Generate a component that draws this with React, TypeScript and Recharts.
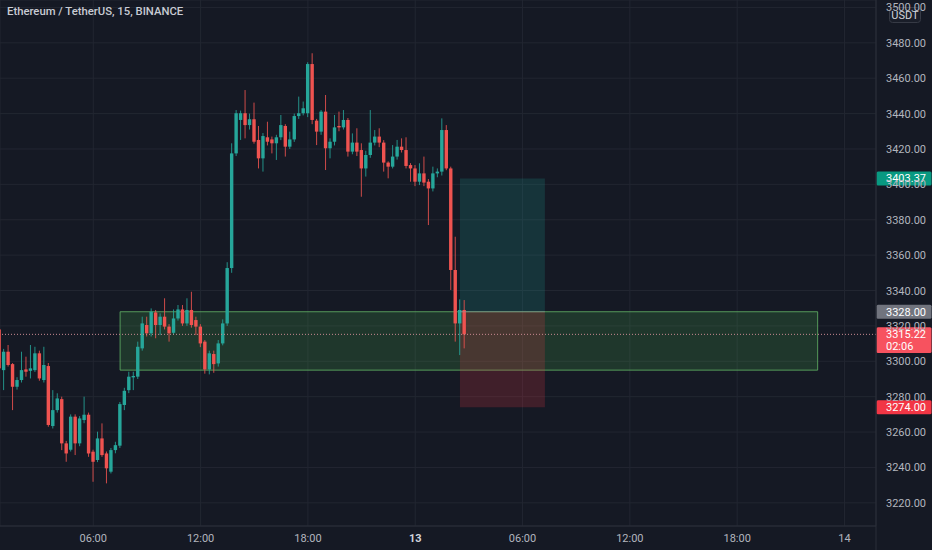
import React from 'react';
import { ComposedChart, Bar, XAxis, YAxis, CartesianGrid, ReferenceArea, ReferenceLine } from 'recharts';

// ETH/USDT 15-minute candles, first candle starts at 00:45 on the 12th
const FIRST_CANDLE_MINUTE = 45;
const CANDLE_MINUTES = 15;

const opens = [
  3318, 3295.0, 3305.4, 3298.4, 3285.6, 3289.4, 3295.4, 3294.6, 3295.0, 3304.5,
  3289.4, 3297.3, 3263.4, 3272.4, 3278.6, 3253.6, 3250.0, 3268.7, 3253.6, 3266.8,
  3269.8, 3248.9, 3244.2, 3256.4, 3247.9, 3237.6, 3249.8, 3252.3, 3275.3, 3283.7,
  3290.9, 3291.3, 3307.3, 3320.5, 3315.8, 3327.6, 3320.5, 3325.2, 3319.6, 3316.1,
  3324.2, 3329.3, 3321.4, 3329.0, 3323.3, 3319.6, 3311.1, 3295.4, 3304.1, 3298.8,
  3310.1, 3321.4, 3352.7, 3417.5, 3436.4, 3440.2, 3433.5, 3436.8, 3425.1, 3414.7,
  3426.6, 3425.4, 3423.2, 3426.6, 3433.0, 3421.3, 3425.4, 3438.6, 3440.2, 3440.2,
  3468.0, 3436.0, 3429.8, 3441.1, 3420.4, 3424.1, 3433.0, 3432.2, 3436.4, 3418.5,
  3423.6, 3419.4, 3409.0, 3416.6, 3423.6, 3427.0, 3423.6, 3412.3, 3410.0, 3415.7,
  3421.3, 3419.4, 3410.9, 3409.0, 3401.5, 3406.2, 3401.5, 3397.7, 3406.2, 3407.2,
  3430.7, 3409.0, 3351.6, 3321.4, 3329.0,
];
const highs = [
  3320, 3307, 3309.2, 3299, 3291, 3305.4, 3302.6, 3309.2, 3308.2, 3306,
  3308.2, 3299, 3283.7, 3281.9, 3280, 3255, 3270, 3270, 3269, 3280.0,
  3271, 3250, 3260.2, 3264.9, 3249, 3251, 3254.5, 3277, 3285, 3294.1,
  3294.1, 3311.1, 3325.2, 3325.2, 3329.9, 3329, 3327.1, 3335.6, 3321, 3329.3,
  3331.8, 3331.8, 3335.6, 3339.3, 3325.2, 3321, 3312, 3306, 3306, 3312,
  3323.7, 3356, 3423.2, 3442, 3441.7, 3453.3, 3440, 3446.2, 3433.0, 3429,
  3435.4, 3427, 3428, 3439.2, 3434, 3429.8, 3440, 3449.6, 3446.8, 3469,
  3474.1, 3437, 3442, 3450.5, 3426, 3439.2, 3441.1, 3442.0, 3437.5, 3428.8,
  3431.7, 3423.2, 3419, 3442.0, 3430.7, 3431.7, 3425, 3413, 3422.2, 3425.1,
  3426, 3426.6, 3412, 3410.9, 3411.9, 3415.7, 3403, 3410, 3409, 3437.3,
  3433.5, 3410, 3370.4, 3335.0, 3334.6,
];
const lows = [
  3294, 3283.7, 3297, 3272.4, 3284, 3288, 3291.3, 3290.3, 3294, 3289,
  3288, 3263, 3262, 3271, 3249.8, 3243.2, 3249, 3247, 3252, 3265,
  3246, 3231.9, 3243, 3246, 3231.0, 3236.6, 3248, 3251, 3272.4, 3282,
  3283.7, 3290, 3306, 3314, 3314, 3313, 3314.8, 3318, 3311.1, 3315,
  3323, 3320, 3320, 3319, 3314.8, 3308, 3293, 3292.6, 3293.5, 3297,
  3309, 3320, 3350, 3416, 3425.1, 3426.0, 3431, 3423, 3409.0, 3407.2,
  3422, 3417.5, 3413.8, 3425, 3415.7, 3420, 3424, 3437, 3439, 3438,
  3434, 3422.2, 3428, 3408.1, 3414.7, 3422, 3430, 3431, 3415.7, 3417,
  3416, 3393.0, 3404.4, 3415, 3422, 3421, 3407.2, 3403.4, 3409, 3414,
  3418, 3409, 3401.5, 3399, 3399.6, 3399, 3377.0, 3396, 3404, 3405,
  3408, 3340.3, 3311.1, 3303.5, 3307.3,
];
const closes = [
  3296, 3305.4, 3297.9, 3285.6, 3289.4, 3295.0, 3294.1, 3296, 3304.5, 3290.3,
  3297.9, 3264.0, 3272.4, 3279.0, 3253.6, 3247.9, 3268.7, 3253.6, 3267.7, 3269.8,
  3247.9, 3243.2, 3256.4, 3247.0, 3239.5, 3249.8, 3252.6, 3275.8, 3283.3, 3291.3,
  3291.7, 3308.2, 3321.4, 3315.8, 3328.0, 3320.5, 3325.2, 3319.6, 3315.8, 3324.2,
  3329.3, 3321.4, 3329.0, 3320.5, 3319.6, 3310.1, 3295.4, 3304.5, 3298.4, 3310.1,
  3321.4, 3352.7, 3417.5, 3440.2, 3440.2, 3433.5, 3436.8, 3424.1, 3414.7, 3427.3,
  3424.1, 3423.2, 3426.6, 3433.5, 3421.3, 3425.4, 3438.6, 3440.2, 3443.0, 3468.0,
  3436.4, 3429.8, 3441.1, 3420.4, 3424.1, 3432.2, 3432.2, 3436.4, 3418.5, 3423.6,
  3418.5, 3409.0, 3416.6, 3423.6, 3427.0, 3423.6, 3412.3, 3410.0, 3415.7, 3421.3,
  3419.4, 3410.4, 3409.0, 3401.5, 3406.2, 3401.0, 3397.7, 3406.2, 3407.2, 3430.7,
  3409.0, 3351.6, 3321.4, 3329.0, 3315.22,
];

// axis ticks (minutes since 00:00 on the 12th) and price ticks
const timeTicks = [360, 720, 1080, 1440, 1800, 2160, 2520, 2880];
const priceTicks = [3220, 3240, 3260, 3280, 3300, 3320, 3340, 3360, 3380, 3400, 3420, 3440, 3460, 3480, 3500];
const timeDomain = [47.1, 2985.7];
const priceDomain = [3206.9, 3504.2];

// drawings
const zoneTimes = [450, 2790];
const zonePrices = [3295, 3328];
const positionTimes = [1590, 1875];
const positionEntry = 3328;
const positionTarget = 3403.37;
const positionStop = 3274;
const lastPrice = 3315.22;
const countdown = '02:06';
const quoteCurrency = 'USDT';
const title = 'Ethereum / TetherUS, 15, BINANCE';

const BG = '#151924';
const GRID = '#222631';
const UP = '#26a69a';
const DOWN = '#ef5350';
const TEXT = '#b2b5be';
const FONT = 'Roboto, "Liberation Sans", sans-serif';
const AXIS_TEXT_X = 886;

const candles = opens.map((o, i) => ({
  t: FIRST_CANDLE_MINUTE + i * CANDLE_MINUTES,
  open: o,
  high: highs[i],
  low: lows[i],
  close: closes[i],
  range: [lows[i], highs[i]],
}));

function Candle(props: any) {
  const { x, y, width, height, payload } = props;
  if (x == null || y == null || !payload) return null;
  const { open, close, high, low } = payload;
  const top = Math.min(y, y + height);
  const h = Math.abs(height);
  const k = high === low ? 0 : h / (high - low);
  const py = (v: number) => top + (high - v) * k;
  const cx = x + width / 2;
  const color = close >= open ? UP : DOWN;
  const bTop = py(Math.max(open, close));
  const bH = Math.max(1, py(Math.min(open, close)) - bTop);
  return (
    <g>
      <line x1={cx} x2={cx} y1={top} y2={top + h} stroke={color} strokeWidth={1} strokeOpacity={0.85} />
      <rect x={cx - 1.7} y={bTop} width={3.4} height={bH} fill={color} />
    </g>
  );
}

const fmtTime = (m: number) => {
  if (m % 1440 === 0) return String(12 + m / 1440);
  const mm = m % 1440;
  const h = Math.floor(mm / 60);
  const mi = mm % 60;
  return `${String(h).padStart(2, '0')}:${String(mi).padStart(2, '0')}`;
};

function TimeTick(props: any) {
  const { x, payload } = props;
  const label = fmtTime(payload.value);
  const bold = payload.value === 1440;
  return (
    <text x={x} y={542} textAnchor="middle" fontSize={11} fontFamily={FONT}
      fill={bold ? '#d1d4dc' : TEXT} fontWeight={bold ? 700 : 400}>{label}</text>
  );
}

function PriceTick(props: any) {
  const { y, payload } = props;
  return (
    <text x={AXIS_TEXT_X} y={y + 4} fontSize={11} fontFamily={FONT} fill={TEXT}>
      {Number(payload.value).toFixed(2)}
    </text>
  );
}

function AxisDecor(props: any) {
  const vb = props.viewBox;
  if (!vb) return null;
  const x0 = vb.x + vb.width;
  return (
    <g>
      <line x1={x0} x2={x0} y1={0} y2={550} stroke="#2a2e39" strokeWidth={1} />
      <rect x={x0 + 13.5} y={7.5} width={31} height={15} rx={3} fill="#1a1e29" stroke="#363a45" />
      <text x={x0 + 29} y={19} textAnchor="middle" fontSize={11} fontFamily={FONT} fill="#d1d4dc">{quoteCurrency}</text>
    </g>
  );
}

const makeTag = (value: number, bg: string, second?: string) => (props: any) => {
  const vb = props.viewBox;
  if (!vb) return null;
  const cy = vb.y;
  const x0 = vb.x + vb.width;
  const h = second ? 25.7 : 14;
  return (
    <g>
      <rect x={x0 + 0.5} y={cy - 7} width={55} height={h} rx={1.5} fill={bg} />
      <text x={AXIS_TEXT_X} y={cy + 4} fontSize={11} fontFamily={FONT} fill="#ffffff">{value.toFixed(2)}</text>
      {second ? (
        <text x={AXIS_TEXT_X} y={cy + 15.5} fontSize={11} fontFamily={FONT} fill="#ffffff">{second}</text>
      ) : null}
    </g>
  );
};

export default function App() {
  return (
    <div style={{ position: 'absolute', left: 0, top: 0, width: 932, height: 550, background: BG, overflow: 'hidden', fontFamily: FONT }}>
      <ComposedChart width={932} height={550} data={candles} margin={{ top: 0, right: 0, bottom: 0, left: 0 }}>
        <CartesianGrid stroke={GRID} strokeWidth={1} />
        <XAxis dataKey="t" type="number" domain={timeDomain} allowDataOverflow ticks={timeTicks}
          height={24} tickLine={false} axisLine={{ stroke: '#2a2e39' }} tick={<TimeTick />} interval={0} />
        <YAxis type="number" orientation="right" domain={priceDomain} allowDataOverflow ticks={priceTicks}
          width={56} tickLine={false} axisLine={false} tick={<PriceTick />} interval={0} />
        <ReferenceArea x1={zoneTimes[0]} x2={zoneTimes[1]} y1={zonePrices[0]} y2={zonePrices[1]}
          fill="#4caf50" fillOpacity={0.2} stroke="#5fae63" strokeOpacity={0.85} strokeWidth={1} />
        <Bar dataKey="range" barSize={4} shape={<Candle />} isAnimationActive={false} />
        <ReferenceArea x1={positionTimes[0]} x2={positionTimes[1]} y1={positionEntry} y2={positionTarget}
          fill="#1e9e96" fillOpacity={0.2} stroke="none" />
        <ReferenceArea x1={positionTimes[0]} x2={positionTimes[1]} y1={positionStop} y2={positionEntry}
          fill="#f23645" fillOpacity={0.2} stroke="none" />
        <ReferenceLine segment={[{ x: positionTimes[0], y: positionEntry }, { x: positionTimes[1], y: positionEntry }]}
          stroke="#9598a1" strokeOpacity={0.5} strokeWidth={1} />
        <ReferenceLine y={lastPrice} stroke="#c98a92" strokeDasharray="1 2" strokeWidth={1}
          label={makeTag(lastPrice, '#f7525f', countdown)} />
        <ReferenceLine y={positionTarget} stroke="none" strokeOpacity={0} label={makeTag(positionTarget, '#089981')} />
        <ReferenceLine y={positionEntry} stroke="none" strokeOpacity={0} label={makeTag(positionEntry, '#71747e')} />
        <ReferenceLine y={positionStop} stroke="none" strokeOpacity={0} label={makeTag(positionStop, '#f23645')} />
        <ReferenceLine y={priceDomain[1]} stroke="none" strokeOpacity={0} label={(p: any) => <AxisDecor {...p} />} />
      </ComposedChart>
      <div style={{ position: 'absolute', left: 7, top: 5, fontSize: 11.3, fontWeight: 500, color: '#c8cbd3', fontFamily: FONT, whiteSpace: 'nowrap' }}>
        {title}
      </div>
    </div>
  );
}
